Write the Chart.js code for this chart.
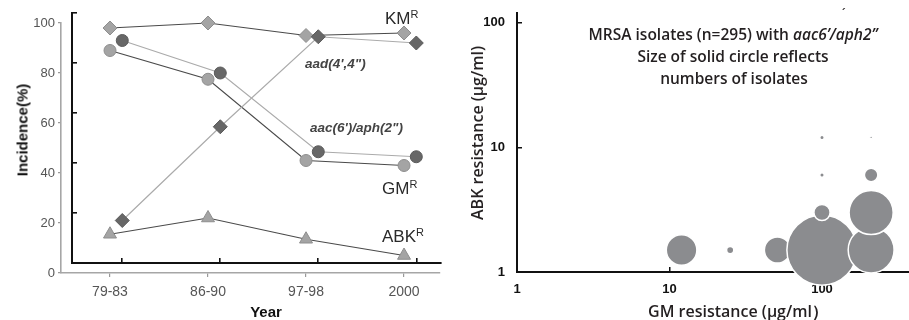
<!DOCTYPE html>
<html><head><meta charset="utf-8">
<script src="https://cdn.jsdelivr.net/npm/chart.js@4.4.1/dist/chart.umd.min.js"></script>
<style>
html,body{margin:0;padding:0;background:#fff;width:909px;height:320px;overflow:hidden;}
#wrap{position:relative;width:909px;height:320px;}
canvas{position:absolute;}
.t{position:absolute;white-space:nowrap;line-height:1;transform:translate(0,-50%);}
.c{transform:translate(-50%,-50%);}
.lab{font-family:'Liberation Sans',Arial,sans-serif;font-size:17px;color:#2a2a2a;}
.lab sup{font-size:11px;vertical-align:6px;line-height:0;}
.gene{font-family:'Liberation Sans',Arial,sans-serif;font-size:13.5px;font-weight:bold;font-style:italic;color:#444;}
.rt{font-family:'Open Sans',sans-serif;font-weight:600;color:#231f20;}
</style></head><body>
<div id="wrap">
<canvas id="cA" width="455" height="320" style="left:0;top:0"></canvas>
<canvas id="cB" width="455" height="320" style="left:12px;top:-10px"></canvas>
<canvas id="cC" width="454" height="320" style="left:455px;top:0"></canvas>

<div class="t c" style="left:266px;top:311px;font-family:'Liberation Sans',Arial,sans-serif;font-weight:bold;font-size:15px;color:#111;">Year</div>
<div class="t" style="left:22px;top:130px;transform:translate(-50%,-50%) rotate(-90deg);font-family:'Liberation Sans',Arial,sans-serif;font-weight:bold;font-size:15px;color:#111;">Incidence(%)</div>
<div class="t lab" style="left:385px;top:18px;">KM<sup>R</sup></div>
<div class="t gene" style="left:305px;top:64px;">aad(4',4")</div>
<div class="t gene" style="left:310px;top:128px;">aac(6')/aph(2")</div>
<div class="t lab" style="left:382px;top:188px;">GM<sup>R</sup></div>
<div class="t lab" style="left:382px;top:236px;">ABK<sup>R</sup></div>

<div class="t c rt" style="left:733px;top:35px;font-size:15.5px;">MRSA isolates (n=295) with <i>aac6’/aph2”</i></div>
<div class="t c rt" style="left:733px;top:57px;font-size:15.5px;">Size of solid circle reflects</div>
<div class="t c rt" style="left:734px;top:79px;font-size:15.5px;">numbers of isolates</div>
<div class="t c rt" style="left:841px;top:14px;font-size:12px;font-style:italic;">´</div>
<div class="t c rt" style="left:738px;top:311px;font-size:16px;">GM resistance (μg/ml）</div>
<div class="t rt" style="left:477px;top:133px;transform:translate(-50%,-50%) rotate(-90deg);font-size:16px;">ABK resistance (μg/ml)</div>
</div>
<script>
// ---- Left panel data (incidence, %) ----
const periods = ['79-83', '86-90', '97-98', '2000'];
const kmR    = [98, 100, 95, 96];
const gmR    = [89, 77.5, 45, 43];
const abkR   = [15.5, 22, 13.5, 7];
const aad44  = [17, 54.5, 90.5, 88];
const aac6aph2 = [89, 76, 44.5, 42.5];
const incidenceTicks = [0, 20, 40, 60, 80, 100];

// ---- Right panel data (MIC, ug/ml) ----
const gmMic     = [12, 25, 51, 100, 210, 210, 100, 100, 100, 210, 210];
const abkMic    = [1.5, 1.5, 1.5, 1.5, 1.5, 3, 3, 6, 12, 6, 12];
const isolates  = [34, 8, 29, 78, 51, 49, 18, 5, 5, 15, 3];
const micTicks  = [1, 10, 100];

Chart.defaults.font.family = "'Liberation Sans', Arial, sans-serif";
const pts = arr => arr.map((v, i) => ({x: i, y: v}));
const catTicks = s => { s.ticks = periods.map((p, i) => ({value: i})); };
const incTicks = s => { s.ticks = incidenceTicks.map(v => ({value: v})); };
const fitH = h => s => { s.height = h; s.paddingLeft = 0; s.paddingRight = 0; };
const fitW = w => s => { s.width = w; s.paddingTop = 0; s.paddingBottom = 0; };
const base = {
  responsive: false, devicePixelRatio: 1, animation: false, events: [],
  plugins: {legend: {display: false}, tooltip: {enabled: false}}
};

const grayMk = {pointBackgroundColor: '#a4a4a4', pointBorderColor: '#8e8e8e', pointBorderWidth: 1};
const darkMk = {pointBackgroundColor: '#676767', pointBorderColor: '#5a5a5a', pointBorderWidth: 1};

new Chart(document.getElementById('cA'), {
  type: 'line',
  data: {datasets: [
    Object.assign({label: 'KMR', data: pts(kmR), borderColor: '#4a4a4a', borderWidth: 1.2, pointStyle: 'rectRot', pointRadius: 7, clip: false}, grayMk),
    Object.assign({label: 'GMR', data: pts(gmR), borderColor: '#4a4a4a', borderWidth: 1.2, pointStyle: 'circle', pointRadius: 6, clip: false}, grayMk),
    Object.assign({label: 'ABKR', data: pts(abkR), borderColor: '#4a4a4a', borderWidth: 1.2, pointStyle: 'triangle', pointRadius: 7.5, clip: false}, grayMk)
  ]},
  options: Object.assign({}, base, {
    layout: {autoPadding: false, padding: {left: 0, right: 15, top: 23, bottom: 0}},
    scales: {
      x: {type: 'linear', position: 'bottom', min: -0.5, max: 3.367,
        afterBuildTicks: catTicks, afterFit: fitH(47),
        ticks: {callback: v => periods[v], color: '#555', font: {size: 14}, padding: 7, maxRotation: 0, autoSkip: false},
        grid: {drawOnChartArea: false, tickLength: 4, color: '#999', lineWidth: 1.2},
        border: {color: '#a6a6a6', width: 1.6}},
      y: {type: 'linear', min: 0, max: 100,
        afterBuildTicks: incTicks, afterFit: fitW(61),
        ticks: {color: '#555', font: {size: 13}, padding: 3},
        grid: {drawOnChartArea: false, tickLength: 3, color: '#999', lineWidth: 1.2},
        border: {color: '#a6a6a6', width: 1.6}}
    }
  })
});

new Chart(document.getElementById('cB'), {
  type: 'line',
  data: {datasets: [
    Object.assign({label: "aad(4',4\")", data: pts(aad44), borderColor: '#ababab', borderWidth: 1.2, pointStyle: 'rectRot', pointRadius: 7, clip: false}, darkMk),
    Object.assign({label: "aac(6')/aph(2\")", data: pts(aac6aph2), borderColor: '#ababab', borderWidth: 1.2, pointStyle: 'circle', pointRadius: 6, clip: false}, darkMk)
  ]},
  options: Object.assign({}, base, {
    layout: {autoPadding: false, padding: {left: 0, right: 26, top: 23, bottom: 0}},
    scales: {
      x: {type: 'linear', position: 'bottom', min: -0.513, max: 3.252,
        afterBuildTicks: catTicks, afterFit: fitH(47),
        ticks: {display: false},
        grid: {drawOnChartArea: false, tickLength: -5, color: '#111', lineWidth: 1.6},
        border: {color: '#111', width: 2}},
      y: {type: 'linear', min: 0, max: 100,
        afterBuildTicks: incTicks, afterFit: fitW(60),
        ticks: {display: false},
        grid: {drawOnChartArea: false, tickLength: -5, color: '#111', lineWidth: 1.6},
        border: {color: '#111', width: 2}}
    }
  })
});

const micTickFn = s => { s.ticks = micTicks.map(v => ({value: v})); };
new Chart(document.getElementById('cC'), {
  type: 'bubble',
  data: {datasets: [{
    label: 'MRSA isolates',
    data: gmMic.map((g, i) => ({x: g, y: abkMic[i], r: 0.45 * isolates[i]})),
    backgroundColor: '#8b8c8f', borderColor: '#ffffff', borderWidth: 1.5, clip: false
  }]},
  options: Object.assign({}, base, {
    layout: {autoPadding: false, padding: {left: 0, right: 0, top: 13, bottom: 0}},
    scales: {
      x: {type: 'logarithmic', position: 'bottom', min: 1, max: 372,
        afterBuildTicks: micTickFn, afterFit: fitH(48),
        ticks: {callback: v => String(v), color: '#111', font: {size: 13, weight: 'bold'}, padding: 15, autoSkip: false, maxRotation: 0},
        grid: {drawOnChartArea: false, tickLength: -5, color: '#111', lineWidth: 1.5},
        border: {color: '#111', width: 2}},
      y: {type: 'logarithmic', min: 1, max: 119.6,
        afterBuildTicks: micTickFn, afterFit: fitW(62),
        ticks: {callback: v => String(v), color: '#111', font: {size: 13, weight: 'bold'}, padding: 17, autoSkip: false},
        grid: {drawOnChartArea: false, tickLength: -5, color: '#111', lineWidth: 1.5},
        border: {color: '#111', width: 2}}
    }
  })
});
</script>
</body></html>
